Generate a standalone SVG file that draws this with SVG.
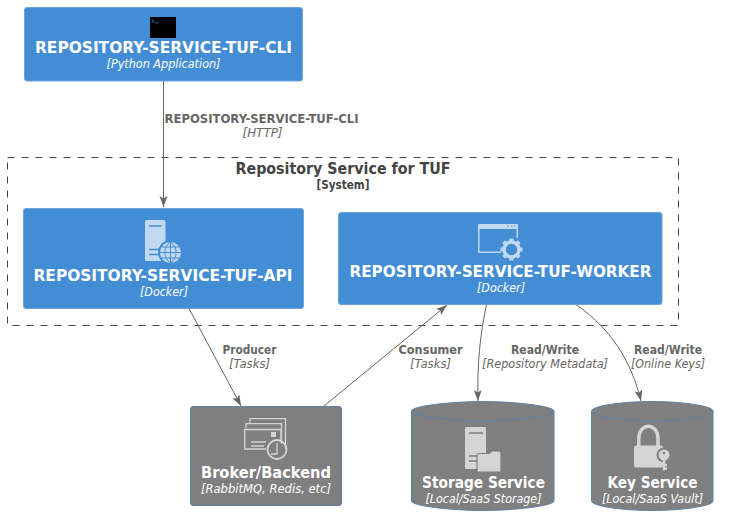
<svg xmlns="http://www.w3.org/2000/svg" width="729" height="526" viewBox="0 0 729 526">
<style>
text{font-family:"DejaVu Sans",Verdana,sans-serif;text-anchor:middle}
.t{font-weight:bold;font-size:16.500px;fill:#fff}
.s{font-style:italic;font-size:12px;fill:#fff}
.lt{font-weight:bold;font-size:12px;fill:#666}
.ls{font-style:italic;font-size:12px;fill:#666}
.blue{fill:#438dd5;stroke:#6ea3db;stroke-width:1}
.grey{fill:#7f7f7f;stroke:#5d82a8;stroke-width:1}
.edge{fill:none;stroke:#666;stroke-width:1}
.ib{fill:#c2d9f1}.ibs{fill:none;stroke:#c2d9f1}
.ig{fill:#d5d5d5}.igs{fill:none;stroke:#d5d5d5}
</style>
<defs>
<marker id="arrow" markerUnits="userSpaceOnUse" markerWidth="12" markerHeight="10" refX="11" refY="4" orient="auto">
<path d="M0 0L11 4L0 8L2.500 4Z" fill="#666"/>
</marker>
</defs>
<g id="boundary">
<rect x="7.500" y="157.500" width="671" height="168" fill="none" stroke="#444" stroke-dasharray="7 7"/>
<text x="343" y="174" style="font-weight:bold;font-size:16.500px;fill:#444" textLength="215" lengthAdjust="spacingAndGlyphs">Repository Service for TUF</text>
<text x="343" y="189" style="font-weight:bold;font-size:11.500px;fill:#444" textLength="53" lengthAdjust="spacingAndGlyphs">[System]</text>
</g>
<g id="connectors">
<path class="edge" marker-end="url(#arrow)" d="M163.500 81V207"/>
<path class="edge" marker-end="url(#arrow)" d="M189 308.500L241 406"/>
<path class="edge" marker-end="url(#arrow)" d="M324 406L447 305"/>
<path class="edge" marker-end="url(#arrow)" d="M486.500 304.500C480 335 477 365 478 401"/>
<path class="edge" marker-end="url(#arrow)" d="M576 304.500C610 328 631 360 641 401"/>
<text class="lt" x="261.500" y="123" textLength="194" lengthAdjust="spacingAndGlyphs">REPOSITORY-SERVICE-TUF-CLI</text>
<text class="ls" x="262.500" y="137" textLength="40" lengthAdjust="spacingAndGlyphs">[HTTP]</text>
<text class="lt" x="249.500" y="354" textLength="54" lengthAdjust="spacingAndGlyphs">Producer</text>
<text class="ls" x="249.500" y="368" textLength="41" lengthAdjust="spacingAndGlyphs">[Tasks]</text>
<text class="lt" x="430.500" y="354" textLength="64" lengthAdjust="spacingAndGlyphs">Consumer</text>
<text class="ls" x="430.500" y="368" textLength="41" lengthAdjust="spacingAndGlyphs">[Tasks]</text>
<text class="lt" x="545" y="354" textLength="68" lengthAdjust="spacingAndGlyphs">Read/Write</text>
<text class="ls" x="545" y="368" textLength="126" lengthAdjust="spacingAndGlyphs">[Repository Metadata]</text>
<text class="lt" x="668" y="354" textLength="68" lengthAdjust="spacingAndGlyphs">Read/Write</text>
<text class="ls" x="668" y="368" textLength="74" lengthAdjust="spacingAndGlyphs">[Online Keys]</text>
</g>
<g id="cli">
<rect class="blue" x="24.500" y="7.500" width="278" height="73.500" rx="2.500"/>
<rect x="150" y="17" width="26" height="21" fill="#000"/>
<path d="M152 19.500L154 21L152 22.500M154.500 22.800H158.500" fill="none" stroke="#438dd5" stroke-width="0.800"/>
<text class="t" x="163.500" y="53" textLength="257" lengthAdjust="spacingAndGlyphs">REPOSITORY-SERVICE-TUF-CLI</text>
<text class="s" x="163.500" y="68" textLength="114" lengthAdjust="spacingAndGlyphs">[Python Application]</text>
</g>
<g id="api">
<rect class="blue" x="23.500" y="208.500" width="280" height="100" rx="2.500"/>
<rect class="ib" x="145" y="220" width="20.500" height="41" rx="1.500"/>
<path d="M149 226H161.500M149 249.500H160M149 254.500H160" stroke="#438dd5" stroke-width="1.500"/>
<circle cx="170.500" cy="252.500" r="12.500" fill="#438dd5"/>
<circle cx="170.500" cy="252.500" r="10.500" class="ib"/>
<path d="M160 252.500H181M161.500 247H179.500M161.500 258H179.500M170.500 242V263M170.500 242C163 247 163 258 170.500 263M170.500 242C178 247 178 258 170.500 263" fill="none" stroke="#438dd5" stroke-width="1"/>
<text class="t" x="163" y="280.500" textLength="259" lengthAdjust="spacingAndGlyphs">REPOSITORY-SERVICE-TUF-API</text>
<text class="s" x="164" y="296" textLength="48" lengthAdjust="spacingAndGlyphs">[Docker]</text>
</g>
<g id="worker">
<rect class="blue" x="338.500" y="212.500" width="323.500" height="92" rx="2.500"/>
<path class="ib" d="M478 224.500Q478 224 479 224H517.500Q518 224 518 224.500V229H478Z"/>
<path class="ibs" stroke-width="1.500" d="M478.800 228V252.300H501M517.300 228V238"/>
<path d="M507.500 226H509M511 226H512.500M514 226H515.500" stroke="#438dd5" stroke-width="1.200"/>
<circle cx="511.500" cy="249.500" r="7.500" fill="none" stroke="#c2d9f1" stroke-width="3.500"/>
<path class="ibs" stroke-width="4" d="M511.500 238.500V242M511.500 257V260.500M500.500 249.500H504M519 249.500H522.500M503.700 241.700L506.200 244.200M516.800 254.800L519.300 257.300M503.700 257.300L506.200 254.800M516.800 244.200L519.300 241.700"/>
<text class="t" x="500.500" y="276.500" textLength="302" lengthAdjust="spacingAndGlyphs">REPOSITORY-SERVICE-TUF-WORKER</text>
<text class="s" x="501" y="292" textLength="48" lengthAdjust="spacingAndGlyphs">[Docker]</text>
</g>
<g id="broker">
<rect class="grey" x="190.500" y="406.500" width="151" height="99" rx="2.500"/>
<path class="igs" stroke-width="1.300" d="M250 423V418.700H285.500V449M246 428V423.700H281.500V444"/>
<path class="igs" stroke-width="1.300" d="M266 449H244.700V429.500H281V440"/>
<rect class="ig" x="271" y="432" width="5" height="5"/>
<path class="igs" stroke-width="1.300" d="M251 442H266M251 446H264"/>
<circle cx="277" cy="449.500" r="9.500" fill="none" stroke="#d5d5d5" stroke-width="1.800"/>
<path class="igs" stroke-width="1.300" d="M277 443V454H271"/>
<text class="t" x="266" y="478" textLength="130" lengthAdjust="spacingAndGlyphs">Broker/Backend</text>
<text class="s" x="266" y="493" textLength="130" lengthAdjust="spacingAndGlyphs">[RabbitMQ, Redis, etc]</text>
</g>
<g id="storage">
<path class="grey" d="M411.500 411C411.500 406 452 401.500 482.500 401.500C513 401.500 554 406 554 411V501C554 506 513 510.500 482.500 510.500C452 510.500 411.500 506 411.500 501Z"/>
<path class="grey" style="fill:none" d="M411.500 411C411.500 416 452 421 482.500 421C513 421 554 416 554 411"/>
<rect class="ig" x="465" y="427" width="21" height="42" rx="1.500"/>
<path d="M469 433H483M469 456H478M469 461H478" stroke="#7f7f7f" stroke-width="1.500"/>
<path d="M477 472V455.500Q477 453.500 479 453.500H489L492 451H499Q501 451 501 453V472Z" fill="#d5d5d5" stroke="#7f7f7f" stroke-width="1.200"/>
<text class="t" x="483.500" y="488" textLength="123" lengthAdjust="spacingAndGlyphs">Storage Service</text>
<text class="s" x="483.500" y="503" textLength="116" lengthAdjust="spacingAndGlyphs">[Local/SaaS Storage]</text>
</g>
<g id="key">
<path class="grey" d="M591.500 411C591.500 406 622 401.500 652 401.500C682 401.500 713 406 713 411V501C713 506 682 510.500 652 510.500C622 510.500 591.500 506 591.500 501Z"/>
<path class="grey" style="fill:none" d="M591.500 411C591.500 416 622 421 652 421C682 421 713 416 713 411"/>
<path class="igs" stroke-width="3.500" d="M638.800 447V439C638.800 422 658 422 658 439V447"/>
<rect class="ig" x="634" y="445.500" width="29" height="22" rx="2"/>
<circle cx="664" cy="455" r="7.500" fill="#7f7f7f"/>
<circle cx="664" cy="455" r="5.500" class="ig"/>
<circle cx="664" cy="453" r="1.300" fill="#7f7f7f"/>
<path d="M664 459V470.500M664 465H667M664 468.500H667" class="igs" stroke-width="2.500"/>
<text class="t" x="652.500" y="488" textLength="90" lengthAdjust="spacingAndGlyphs">Key Service</text>
<text class="s" x="652.500" y="503" textLength="101" lengthAdjust="spacingAndGlyphs">[Local/SaaS Vault]</text>
</g>
</svg>
